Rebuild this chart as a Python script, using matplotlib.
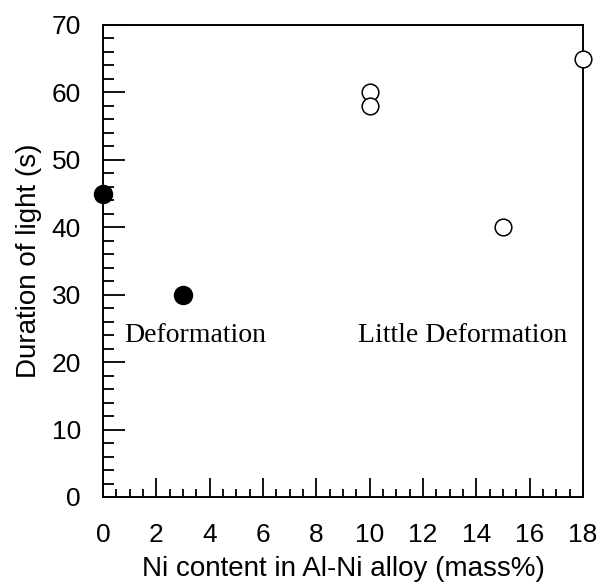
import matplotlib
matplotlib.use("Agg")
import matplotlib.pyplot as plt
from matplotlib.ticker import MultipleLocator

# Data
ni_deformed = [0, 3]
dur_deformed = [45, 30]
ni_little = [10, 10, 15, 18]
dur_little = [60, 58, 40, 65]

plt.rcParams['font.family'] = ['Liberation Sans', 'DejaVu Sans']

fig = plt.figure(figsize=(6.01, 5.82), dpi=100)
ax = fig.add_axes([103 / 601, 1 - 497 / 582, 480 / 601, 472 / 582])

ax.plot(ni_deformed, dur_deformed, 'o', color='black', markersize=13,
        clip_on=False, zorder=5)
ax.plot(ni_little, dur_little, 'o', markerfacecolor='white', markeredgecolor='black',
        markersize=12, markeredgewidth=1.1, clip_on=False, zorder=5)

ax.text(0.8, 24, 'Deformation', family='Liberation Serif', fontsize=20,
        va='center', ha='left')
ax.text(17.4, 24, 'Little Deformation', family='Liberation Serif', fontsize=20,
        va='center', ha='right')

ax.set_xlim(0, 18)
ax.set_ylim(0, 70)
ax.xaxis.set_major_locator(MultipleLocator(2))
ax.xaxis.set_minor_locator(MultipleLocator(0.5))
ax.yaxis.set_major_locator(MultipleLocator(10))
ax.yaxis.set_minor_locator(MultipleLocator(2))

ax.tick_params(which='both', direction='in', top=False, right=False,
               labelsize=19, width=1.3)
ax.tick_params(axis='y', which='major', length=16, pad=16)
ax.tick_params(axis='y', which='minor', length=8)
ax.tick_params(axis='x', which='major', length=14, pad=19)
ax.tick_params(axis='x', which='minor', length=6)

for s in ax.spines.values():
    s.set_linewidth(1.4)

ax.set_xlabel('Ni content in Al-Ni alloy (mass%)', fontsize=20, labelpad=6)
ax.set_ylabel('Duration of light (s)', fontsize=20, labelpad=7)

fig.savefig('out.png', dpi=100)
